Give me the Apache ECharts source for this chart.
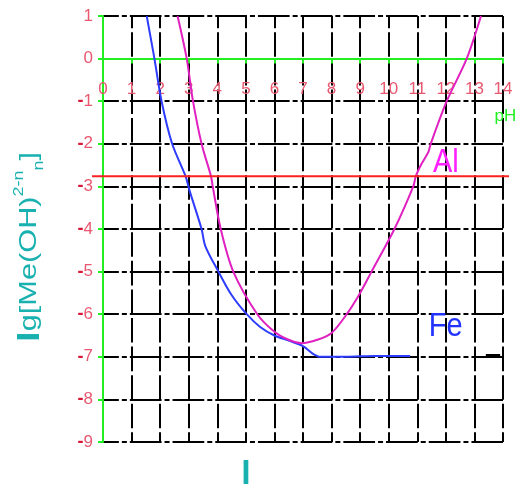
<!DOCTYPE html>
<html><head><meta charset="utf-8">
<script src="https://cdn.jsdelivr.net/npm/echarts@6/dist/echarts.min.js"></script>
<style>html,body{margin:0;padding:0;background:#fff}#c{width:521px;height:487px}</style>
</head><body><div id="c"></div>
<script>
const xTicks = [0,1,2,3,4,5,6,7,8,9,10,11,12,13,14];
const yTicks = [1,0,-1,-2,-3,-4,-5,-6,-7,-8,-9];
const fePH = [1.53,1.8,2.05,2.42,2.89,3.03,3.45,3.58,4.04,4.5,5.03,5.5,6.0,6.5,7.0,7.35,7.6,8.5,9.5,10.75];
const feLg = [1,0,-1,-2,-2.76,-3.1,-4,-4.4,-5,-5.55,-6,-6.3,-6.5,-6.62,-6.75,-6.93,-7.0,-7.0,-6.98,-6.98];
const alPH = [2.61,2.93,3.15,3.45,3.78,3.84,4.12,4.56,5.4,6.0,6.5,6.95,7.5,8.0,8.53,9.0,9.4,10.2,10.86,10.95,11.15,11.39,11.47,12.03,12.73,13.23];
const alLg = [1,0,-1,-2,-2.76,-3.0,-4,-5,-6,-6.41,-6.6,-6.68,-6.6,-6.44,-6.0,-5.5,-5.0,-4.0,-3.0,-2.76,-2.47,-2.19,-2.0,-1,0,1];
const redLevel = -2.76;
const dashPH = [13.4,13.9];
const dashLg = [-6.97,-6.97];

const zip = (a,b)=>a.map((v,i)=>[v,b[i]]);
const chart = echarts.init(document.getElementById('c'));
const font = 'Liberation Sans, Arial, sans-serif';
const teal = '#19b0b0';
const labelColor = '#e85870';
chart.setOption({
  animation:false,
  grid:{left:103,right:18,top:16,bottom:45},
  xAxis:[{type:'value',min:0,max:14,interval:1,
    axisLine:{onZero:true,lineStyle:{color:'#22ee22',width:2}},
    axisTick:{show:true,length:5,lineStyle:{color:'#22ee22',width:2}},
    axisLabel:{show:false},
    splitLine:{show:true,lineStyle:{color:'#000',width:2,type:[24.57,4],dashOffset:12.28}}
  },{type:'value',min:0,max:14,interval:1,position:'top',offset:0,
    axisLine:{show:false},axisTick:{show:false},splitLine:{show:false},
    axisLabel:{inside:true,margin:22,color:labelColor,fontSize:17,fontFamily:font,
      formatter:v=>xTicks.includes(v)?String(v):''}
  }],
  yAxis:{type:'value',min:-9,max:1,interval:1,
    axisLine:{show:true,onZero:false,lineStyle:{color:'#22ee22',width:2}},
    axisTick:{show:true,length:5,lineStyle:{color:'#22ee22',width:2}},
    axisLabel:{margin:10,fontFamily:font,
      formatter:v=>yTicks.includes(v)?(v<0?'{m|-}{d|'+Math.abs(v)+'}':'{d|'+v+'}'):'',
      rich:{m:{color:'#d81838',fontSize:18,fontWeight:'bold',fontFamily:font},
            d:{color:labelColor,fontSize:17,fontFamily:font}}},
    splitLine:{show:true,lineStyle:{color:'#000',width:2,type:[31.7,3,5,3],dashOffset:15.85}}
  },
  series:[
    {type:'line',data:zip(fePH,feLg),showSymbol:false,smooth:0.3,
      lineStyle:{color:'#2d3cff',width:2}},
    {type:'line',data:zip(alPH,alLg),showSymbol:false,smooth:0.3,
      lineStyle:{color:'#e020c0',width:2}},
    {type:'line',data:zip(dashPH,dashLg),showSymbol:false,
      lineStyle:{color:'#000',width:3}}
  ]
});
const y0 = chart.convertToPixel({gridIndex:0},[0,0]);
const yTop = chart.convertToPixel({gridIndex:0},[0,1]);
chart.setOption({xAxis:[{},{offset:-(y0[1]-yTop[1])}]});
const p0 = chart.convertToPixel({gridIndex:0},[0,redLevel]);
const p1 = chart.convertToPixel({gridIndex:0},[14,redLevel]);
const pAl = chart.convertToPixel({gridIndex:0},[11.55,-2.76]);
const pFe = chart.convertToPixel({gridIndex:0},[11.4,-6.45]);
const pPH = chart.convertToPixel({gridIndex:0},[13.7,-1.55]);
const pI = chart.convertToPixel({gridIndex:0},[5,-9]);
chart.setOption({graphic:[
  {type:'line',z:10,shape:{x1:p0[0]-11,y1:p0[1],x2:p1[0]+6,y2:p1[1]},style:{stroke:'#ff2020',lineWidth:2}},
  {type:'text',z:10,x:pAl[0],y:pAl[1]+3,scaleY:1.15,style:{text:'Al',fill:'#ff22ff',fontSize:29,fontFamily:font,textVerticalAlign:'bottom'}},
  {type:'text',z:10,x:pFe[0],y:pFe[1]+10,scaleY:1.15,style:{text:'Fe',fill:'#2233ff',fontSize:29,fontFamily:font,textVerticalAlign:'bottom'}},
  {type:'text',z:10,x:pPH[0],y:pPH[1],style:{text:'pH',fill:'#22ee22',fontSize:17,fontFamily:font,textVerticalAlign:'bottom'}},
  {type:'text',z:10,x:pI[0],y:pI[1]+16,style:{text:'l',fill:teal,fontSize:34,fontWeight:'bold',fontFamily:font,textAlign:'center'}},
  {type:'text',z:10,x:29,y:247,rotation:Math.PI/2,scaleX:1.28,
    style:{text:'{b|l}{a|g[Me(OH)}{sup|2-n}{sub|n}{a|]}',textAlign:'center',textVerticalAlign:'middle',
      rich:{
        b:{fill:teal,fontSize:30,fontWeight:'bold',fontFamily:font,lineHeight:34,verticalAlign:'bottom'},
        a:{fill:teal,fontSize:24,fontFamily:font,lineHeight:28},
        sup:{fill:teal,fontSize:14,fontFamily:font,verticalAlign:'top',lineHeight:14},
        sub:{fill:teal,fontSize:14,fontFamily:font,verticalAlign:'bottom',lineHeight:14}
      }}}
]});
</script></body></html>
